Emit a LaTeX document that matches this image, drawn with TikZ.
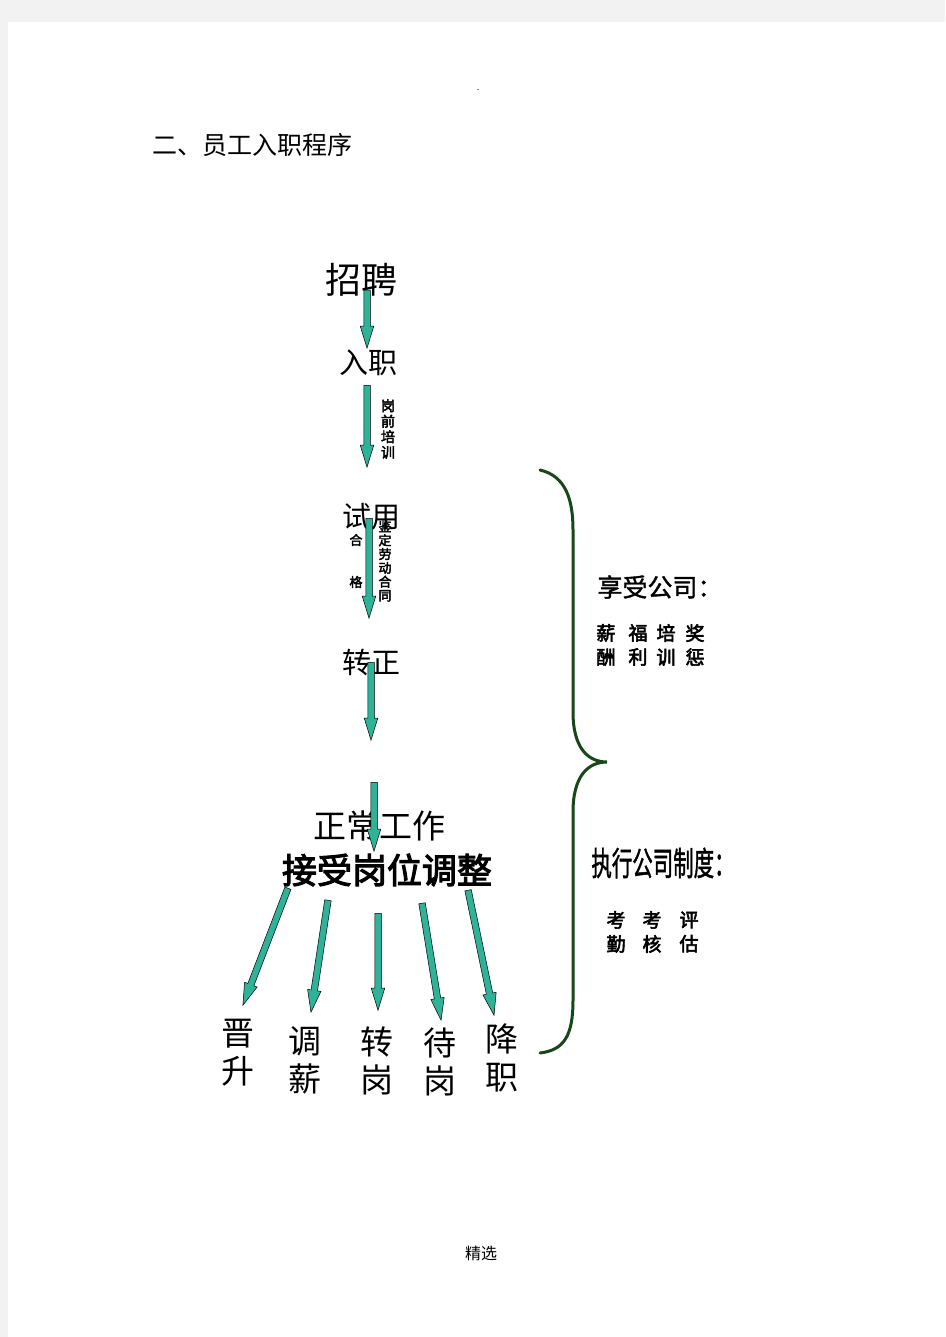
\documentclass[tikz,border=0pt]{standalone}
\usepackage{fontspec}
\setmainfont{Liberation Serif}
\newfontfamily\cjk{Noto Sans CJK SC}
\newfontfamily\cjkb[FakeBold=3]{Noto Sans CJK SC}
\newfontfamily\cjkm[FakeBold=1.5]{Noto Sans CJK SC}
\usetikzlibrary{calc,positioning,shapes.arrows}

\definecolor{arrowteal}{RGB}{46,178,152}
\definecolor{bracegreen}{RGB}{24,72,24}
\definecolor{pagegray}{RGB}{242,242,242}

% block arrow from one named coordinate to another
\newcommand{\blockarrow}[2]{%
  \path let \p1=($(#2)-(#1)$), \n1={veclen(\x1,\y1)}, \n2={atan2(\y1,\x1)} in
    node[flowarrow, minimum height=\n1, rotate=\n2, anchor=tail] at (#1) {};}

\begin{document}
\begin{tikzpicture}[
    x=1pt, y=-1pt,
    flowarrow/.style={
      single arrow,
      draw=black,
      line width=0.5pt,
      fill=arrowteal,
      inner xsep=0pt,
      inner ysep=3pt,
      minimum width=13pt,
      single arrow head extend=3.5pt,
      single arrow tip angle=34
    },
    stage/.style={inner sep=0pt, font=\cjk\fontsize{29}{31}\selectfont},
    result/.style={inner sep=0pt, align=center, font=\cjk\fontsize{33}{38}\selectfont},
    vlabel/.style={inner sep=0pt, align=center, font=\cjkb\fontsize{13}{13.8}\selectfont},
    smallgrid/.style={inner sep=0pt, align=center, font=\cjkb\fontsize{19}{24}\selectfont}
]

%% Page
\fill[pagegray] (0,0) rectangle (945,1337);
\fill[white] (8,22) rectangle (945,1337);
\useasboundingbox (0,0) rectangle (945,1337);

\node (dot) at (478,90) {\fontsize{10}{12}\selectfont .};
\node[inner sep=0pt, font=\cjk\fontsize{25}{27}\selectfont] (title) at (252,145) {二、员工入职程序};
\node[inner sep=0pt, font=\cjk\fontsize{16}{18}\selectfont] (footer) at (481,1253) {精选};

%% Stages
\node[stage, font=\cjk\fontsize{36}{40}\selectfont] (zhaopin) at (361,280) {招聘};
\node[stage] (ruzhi) at (368,363) {入职};
\node[stage] (shiyong) at (371,517) {试用};
\node[stage] (zhuanzheng) at (371,662) {转正};
\node[stage, font=\cjk\fontsize{33}{36}\selectfont] (zhengchang) at (379,826) {正常工作};
\node[stage, font=\cjkb\fontsize{35}{38}\selectfont] (tiaozheng) at (387,870) {接受岗位调整};

%% Labels beside arrows
\node[vlabel, font=\cjkb\fontsize{14}{15.5}\selectfont] (peixun) at (388,429) {岗\\前\\培\\训};
\node[vlabel] (hetong) at (385,561) {鉴\\定\\劳\\动\\合\\同};
\node[vlabel] (he) at (356,540) {合};
\node[vlabel] (ge) at (356,582) {格};

%% Results
\node[result] (jinsheng) at (238,1053) {晋\\升};
\node[result] (tiaoxin) at (305,1060) {调\\薪};
\node[result] (zhuangang) at (377,1061) {转\\岗};
\node[result] (daigang) at (440,1062) {待\\岗};
\node[result] (jiangzhi) at (502,1058) {降\\职};

%% Right side
\node[inner sep=0pt, font=\cjkm\fontsize{25}{27}\selectfont] (xiangshou) at (660,587) {享受公司：};
\foreach \cx/\top/\bot in {606/薪/酬, 638/福/利, 666/培/训, 695/奖/惩}
  \node[smallgrid] (perk\cx) at (\cx,645) {\top\\\bot};
\node[inner sep=0pt, font=\cjkm\fontsize{33}{36}\selectfont] (zhixing) at (663,863) {\scalebox{0.62}[1]{执行公司制度：}};
\foreach \cx/\top/\bot in {616/考/勤, 652/考/核, 689/评/估}
  \node[smallgrid] (rule\cx) at (\cx,932) {\top\\\bot};

%% Brace
\draw[bracegreen, line width=3pt, line cap=round]
  (540,470) .. controls (566,476) and (573,500) .. (573,530)
  -- (573,712) .. controls (573,748) and (588,762) .. (607,762)
  .. controls (588,762) and (573,776) .. (573,812)
  -- (573,1000) .. controls (573,1036) and (564,1050) .. (540,1053);

%%% Arrows
\coordinate (a1s) at (367,290);  \coordinate (a1e) at (367,348);
\coordinate (a2s) at (367,385);  \coordinate (a2e) at (367,467);
\coordinate (a3s) at (369,518);  \coordinate (a3e) at (369,618);
\coordinate (a4s) at (371,662);  \coordinate (a4e) at (371,740);
\coordinate (a5s) at (374,782);  \coordinate (a5e) at (374,851);
\coordinate (b1s) at (288,888);  \coordinate (b1e) at (243,1005);
\coordinate (b2s) at (328,900);  \coordinate (b2e) at (311,1012);
\coordinate (b3s) at (378,913);  \coordinate (b3e) at (378,1010);
\coordinate (b4s) at (422,903);  \coordinate (b4e) at (441,1020);
\coordinate (b5s) at (468,890);  \coordinate (b5e) at (494,1015);

\blockarrow{a1s}{a1e}
\blockarrow{a2s}{a2e}
\blockarrow{a3s}{a3e}
\blockarrow{a4s}{a4e}
\blockarrow{a5s}{a5e}
\blockarrow{b1s}{b1e}
\blockarrow{b2s}{b2e}
\blockarrow{b3s}{b3e}
\blockarrow{b4s}{b4e}
\blockarrow{b5s}{b5e}

\end{tikzpicture}
\end{document}
